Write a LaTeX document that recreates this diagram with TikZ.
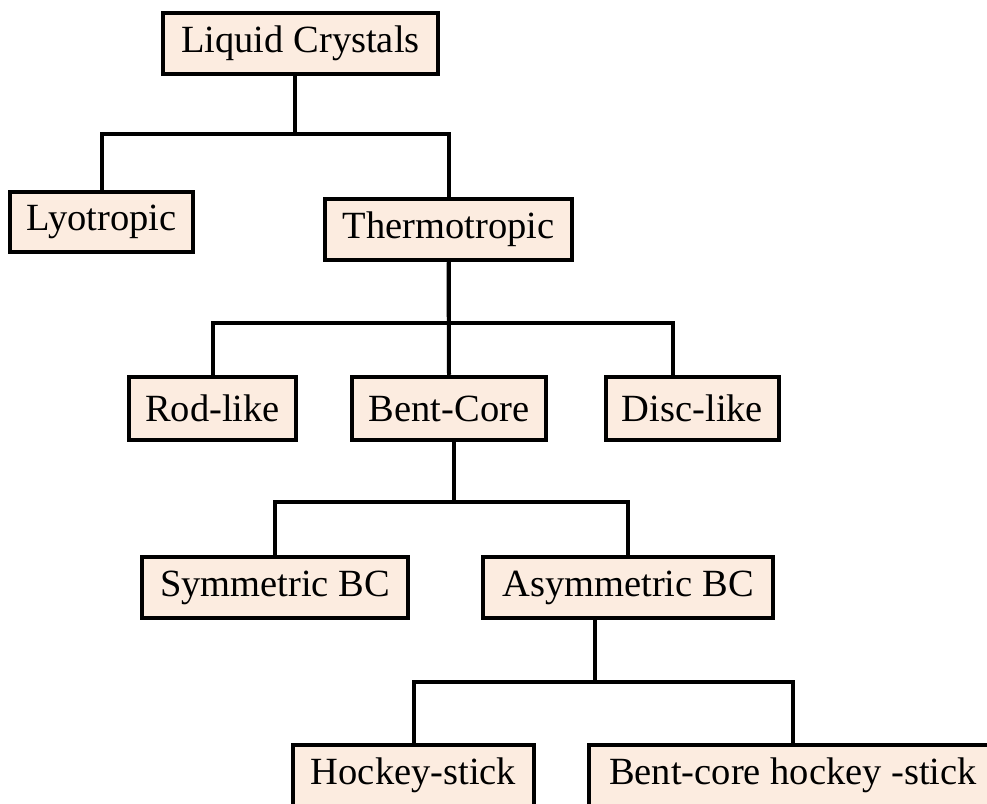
\documentclass[tikz,border=0pt]{standalone}
\usepackage{fontspec}
\setmainfont{Liberation Serif}
\usepackage{tikz}
\definecolor{peach}{RGB}{252,236,224}
\tikzstyle{tree}=[x=1pt, y=-1pt, font=\fontsize{38.5}{44}\selectfont]
\tikzstyle{b}=[rectangle, draw=black, line width=4.5pt, fill=peach, inner sep=0pt, minimum height=61pt]
\tikzstyle{edge}=[line width=4pt, draw=black]

\begin{document}
\begin{tikzpicture}[tree]
	\useasboundingbox (0,0) rectangle (987,803);
	\clip (0,0) rectangle (987,803);
	\draw (300.5,43.5) node[b, minimum width=275pt] (lc) {Liquid Crystals};
	\draw (101.5,222) node[b, minimum width=183pt, minimum height=60pt] (lyo) {Lyotropic};
	\draw (448.5,229.5) node[b, minimum width=247pt] (thermo) {Thermotropic};
	\draw (212.5,408.5) node[b, minimum width=167pt, minimum height=63pt] (rod) {Rod-like};
	\draw (449,408.5) node[b, minimum width=194pt, minimum height=63pt] (bent) {Bent-Core};
	\draw (692.5,408.5) node[b, minimum width=173pt, minimum height=63pt] (disc) {Disc-like};
	\draw (275,587.5) node[b, minimum width=266pt] (sym) {Symmetric BC};
	\draw (628,587.5) node[b, minimum width=290pt] (asym) {Asymmetric BC};
	\draw (413.5,775.5) node[b, minimum width=241pt] (hockey) {Hockey-stick};
	\draw (793,775.5) node[b, minimum width=408pt] (bchs) {Bent-core hockey -stick};
	\draw[edge] ([xshift=-6pt]lc.south) -- ++(0,58) -| (lyo.north);
	\draw[edge] ([xshift=-6pt]lc.south) -- ++(0,58) -| (thermo.north);
	\draw[edge] (thermo.south) -- ++(0,61) -| (rod.north);
	\draw[edge] (thermo.south) -- (bent.north);
	\draw[edge] (thermo.south) -- ++(0,61) -| ([xshift=-20pt]disc.north);
	\draw[edge] ([xshift=5pt]bent.south) -- ++(0,60) -| (sym.north);
	\draw[edge] ([xshift=5pt]bent.south) -- ++(0,60) -| (asym.north);
	\draw[edge] ([xshift=-33pt]asym.south) -- ++(0,62) -| (hockey.north);
	\draw[edge] ([xshift=-33pt]asym.south) -- ++(0,62) -| (bchs.north);
\end{tikzpicture}
\end{document}
